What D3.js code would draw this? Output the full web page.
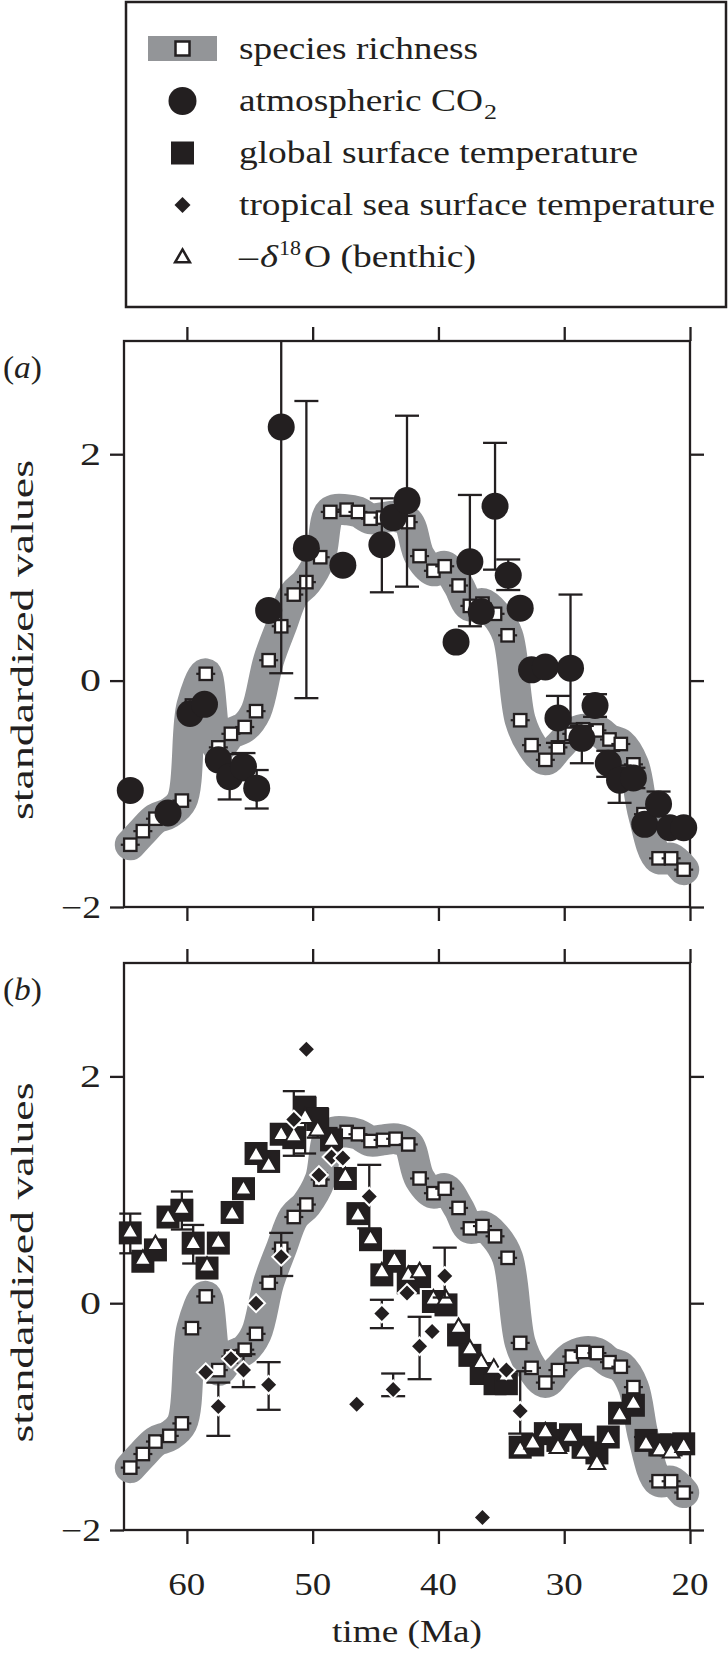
<!DOCTYPE html>
<html><head><meta charset="utf-8">
<script src="https://cdn.jsdelivr.net/npm/d3@7"></script>
<style>body{margin:0;background:#fff}svg{display:block}svg text{font-family:"Liberation Serif","Times New Roman","Nimbus Roman",Times,serif}</style>
</head><body>
<svg id="chart" width="728" height="1662"></svg>
<script>
// ---------------- data ----------------
const ageTicks = [60, 50, 40, 30, 20];
const valueTicks = [-2, 0, 2];

// species richness (both panels)
const richAge = [64.5,63.5,62.5,61.4,60.4,59.6,58.5,57.5,56.5,55.4,54.5,53.5,52.5,51.5,50.5,49.4,48.6,47.3,46.4,45.4,44.4,43.4,42.4,41.5,40.4,39.5,38.4,37.5,36.5,35.5,34.5,33.5,32.6,31.5,30.5,29.4,28.5,27.4,26.4,25.5,24.5,23.7,22.5,21.5,20.5];
const richValue = [-1.45,-1.33,-1.22,-1.17,-1.06,-0.22,0.06,-0.59,-0.47,-0.41,-0.27,0.18,0.48,0.76,0.87,1.09,1.49,1.51,1.49,1.43,1.44,1.45,1.40,1.10,0.97,1.01,0.84,0.66,0.68,0.59,0.40,-0.35,-0.57,-0.70,-0.59,-0.47,-0.43,-0.44,-0.52,-0.56,-0.74,-1.18,-1.57,-1.57,-1.67];

// atmospheric CO2 (panel a)
const co2Age = [64.5,61.5,59.75,58.6,57.5,56.6,55.5,54.45,53.5,52.5,50.5,47.6,44.5,43.6,42.5,38.6,37.5,36.6,35.5,34.45,33.5,32.6,31.5,30.5,29.5,28.6,27.55,26.5,25.6,24.5,23.6,22.5,21.6,20.5];
const co2Value = [-0.97,-1.17,-0.29,-0.21,-0.70,-0.85,-0.76,-0.95,0.62,2.24,1.17,1.02,1.20,1.44,1.59,0.34,1.05,0.61,1.54,0.93,0.64,0.095,0.12,-0.33,0.11,-0.51,-0.22,-0.73,-0.88,-0.86,-1.27,-1.09,-1.30,-1.30];
const co2Low  = [null,null,null,null,null,-1.05,-0.88,-1.13,null,0.065,-0.155,null,0.78,null,0.83,null,0.48,null,0.98,0.80,null,null,null,-0.55,-0.38,-0.73,-0.32,-0.85,-1.08,-0.95,null,-1.20,null,null];
const co2High = [null,null,null,null,null,-0.65,-0.64,-0.79,null,3.0,2.47,null,1.61,null,2.34,null,1.64,null,2.10,1.07,null,null,null,-0.135,0.76,-0.40,-0.12,-0.62,-0.75,-0.77,null,-0.98,null,null];

// global surface temperature (panel b)
const tempAge = [64.5,63.5,62.5,61.5,60.4,59.5,58.4,57.5,56.4,55.5,54.5,53.5,52.5,51.5,50.6,49.6,48.5,47.4,46.4,45.4,44.5,43.5,42.4,41.5,40.4,39.4,38.4,37.5,36.6,35.5,34.6,33.5,32.5,31.5,30.5,29.5,28.5,27.4,26.5,25.6,24.5,23.5,22.4,21.5,20.5];
const tempValue = [0.62,0.37,0.47,0.76,0.82,0.53,0.31,0.53,0.80,1.01,1.32,1.25,1.49,1.46,1.72,1.62,1.44,1.10,0.79,0.56,0.25,0.37,0.18,0.235,0.015,-0.015,-0.28,-0.46,-0.62,-0.71,-0.71,-1.27,-1.25,-1.15,-1.21,-1.16,-1.27,-1.32,-1.18,-0.97,-0.90,-1.21,-1.25,-1.25,-1.24];
const tempLow  = [0.44,null,null,null,0.65,0.35,null,null,null,null,null,null,null,1.30,1.32,1.46,null,null,null,null,null,null,null,null,null,null,null,null,null,null,null,null,null,null,null,null,null,null,null,null,null,null,null,null,null];
const tempHigh = [0.79,null,null,null,0.985,0.69,null,null,null,null,null,null,null,1.87,1.82,1.72,null,null,null,null,null,null,null,null,null,null,null,null,null,null,null,null,null,null,null,null,null,null,null,null,null,null,null,null,null];

// -delta18O benthic (panel b)
const d18Age = [64.5,63.5,62.5,61.5,60.4,59.5,58.4,57.5,56.4,55.5,54.5,53.5,52.5,51.5,50.6,49.6,48.5,47.4,46.4,45.4,44.5,43.5,42.4,41.5,40.4,39.4,38.4,37.5,36.6,35.6,34.6,33.5,32.5,31.5,30.5,29.5,28.5,27.4,26.5,25.6,24.5,23.5,22.4,21.5,20.5];
const d18Value = [0.63,0.39,0.52,0.76,0.84,0.53,0.33,0.54,0.79,1.01,1.31,1.22,1.49,1.48,1.64,1.53,1.44,1.12,0.78,0.57,0.28,0.38,0.25,0.28,0.04,0.04,-0.21,-0.40,-0.52,-0.57,-0.63,-1.29,-1.23,-1.13,-1.27,-1.17,-1.31,-1.41,-1.19,-0.98,-0.88,-1.24,-1.29,-1.31,-1.26];

// tropical sea surface temperature (panel b)
const sstAge = [58.5,57.5,56.5,55.5,54.5,53.5,52.5,51.5,50.5,49.5,48.5,47.6,46.5,45.5,44.5,43.6,42.5,41.5,40.5,39.5,36.5,34.6,33.5];
const sstValue = [-0.61,-0.91,-0.49,-0.59,0.00,-0.72,0.41,1.62,2.24,1.13,1.29,1.28,-0.89,0.94,-0.09,-0.76,0.09,-0.38,-0.25,0.24,-1.89,-0.59,-0.95];
const sstLow  = [null,-1.17,null,-0.74,null,-0.94,0.24,null,null,null,null,null,null,0.66,-0.22,-0.82,null,-0.67,null,0.05,null,null,-1.15];
const sstHigh = [null,-0.70,null,-0.45,null,-0.52,0.62,null,null,null,null,null,null,1.22,0.03,-0.62,null,-0.12,null,0.49,null,null,-0.60];

const legendLabels = ["species richness","atmospheric CO","global surface temperature","tropical sea surface temperature","O (benthic)"];

// ---------------- drawing ----------------
const ink = "#231f20", bandGray = "#939598";
const svg = d3.select("#chart");

const x = d3.scaleLinear().domain([65, 20]).range([124, 690]);
const yA = d3.scaleLinear().domain([-2, 3]).range([907, 341]);
const yB = d3.scaleLinear().domain([-2, 3]).range([1530, 963]);

const zip = (a, v, lo, hi) => a.map((d, i) => ({age: d, v: v[i], lo: lo ? lo[i] : null, hi: hi ? hi[i] : null}));
const rich = zip(richAge, richValue);

function frame(y, label, showXLabels) {
  const g = svg.append("g");
  const [yb, yt] = y.range();
  g.append("rect").attr("x", x(65)).attr("y", yt).attr("width", x(20) - x(65)).attr("height", yb - yt)
    .attr("fill", "none").attr("stroke", ink).attr("stroke-width", 2.3);
  const axes = [
    [d3.axisLeft(y).tickValues(valueTicks), `translate(${x(65)},0)`],
    [d3.axisRight(y).tickValues(valueTicks), `translate(${x(20)},0)`],
    [d3.axisTop(x).tickValues(ageTicks), `translate(0,${yt})`],
    [d3.axisBottom(x).tickValues(ageTicks), `translate(0,${yb})`]
  ];
  axes.forEach(([ax, tr]) => {
    const a = g.append("g").attr("transform", tr).call(ax.tickSize(14).tickSizeOuter(0).tickFormat(""));
    a.select(".domain").remove();
    a.selectAll("line").attr("stroke", ink).attr("stroke-width", 2.3);
  });
  g.selectAll(".ylab").data(valueTicks).join("text")
    .attr("x", 101).attr("y", d => y(d) + 10.5).attr("text-anchor", "end")
    .attr("font-size", 31).attr("fill", ink)
    .attr("textLength", d => d < 0 ? 40 : 21).attr("lengthAdjust", "spacingAndGlyphs")
    .text(d => d < 0 ? "\u2212" + Math.abs(d) : String(d));
  const pl = g.append("text").attr("x", 3).attr("y", yt + 37).attr("font-size", 31).attr("fill", ink)
    .attr("textLength", 39).attr("lengthAdjust", "spacingAndGlyphs");
  pl.append("tspan").text("(");
  pl.append("tspan").attr("font-style", "italic").text(label);
  pl.append("tspan").text(")");
  g.append("text").attr("transform", `translate(33,${(yt + yb) / 2 + 16}) rotate(-90)`)
    .attr("text-anchor", "middle").attr("font-size", 31).attr("fill", ink)
    .attr("textLength", 360).attr("lengthAdjust", "spacingAndGlyphs").text("standardized values");
  if (showXLabels) {
    g.selectAll(".xlab").data(ageTicks).join("text")
      .attr("x", d => x(d)).attr("y", 1595).attr("text-anchor", "middle")
      .attr("font-size", 31).attr("fill", ink)
      .attr("textLength", 37).attr("lengthAdjust", "spacingAndGlyphs").text(d => d);
    g.append("text").attr("x", (x(65) + x(20)) / 2).attr("y", 1642).attr("text-anchor", "middle")
      .attr("font-size", 31).attr("fill", ink)
      .attr("textLength", 150).attr("lengthAdjust", "spacingAndGlyphs").text("time (Ma)");
  }
}

function richness(y) {
  const g = svg.append("g");
  g.append("path").datum(rich)
    .attr("d", d3.line().x(d => x(d.age)).y(d => y(d.v)).curve(d3.curveCatmullRom.alpha(0.5)))
    .attr("fill", "none").attr("stroke", bandGray).attr("stroke-width", 31)
    .attr("stroke-linecap", "round").attr("stroke-linejoin", "round");
  const pts = g.selectAll(".r").data(rich).join("g").attr("transform", d => `translate(${x(d.age)},${y(d.v)})`);
  pts.append("line").attr("x1", -9.5).attr("x2", 9.5).attr("stroke", ink).attr("stroke-width", 2.2);
  pts.append("rect").attr("x", -6.2).attr("y", -6.2).attr("width", 12.4).attr("height", 12.4)
    .attr("fill", "#fff").attr("stroke", ink).attr("stroke-width", 2.3);
}

function errorBars(y, data, cap) {
  const g = svg.append("g").attr("stroke", ink).attr("stroke-width", 2.3);
  const eb = data.filter(d => d.lo !== null && d.hi !== null);
  const top = y.domain()[1];
  g.selectAll(".v").data(eb).join("line")
    .attr("x1", d => x(d.age)).attr("x2", d => x(d.age))
    .attr("y1", d => y(d.lo)).attr("y2", d => y(Math.min(d.hi, top)));
  const caps = [];
  eb.forEach(d => { caps.push({age: d.age, v: d.lo}); if (d.hi < top) caps.push({age: d.age, v: d.hi}); });
  g.selectAll(".c").data(caps).join("line")
    .attr("x1", d => x(d.age) - cap / 2).attr("x2", d => x(d.age) + cap / 2)
    .attr("y1", d => y(d.v)).attr("y2", d => y(d.v));
}

const triPath = (s) => d3.symbol(d3.symbolTriangle, s)();
const diaPath = (h) => `M0,${-h}L${h},0L0,${h}L${-h},0Z`;

// ---- panel a ----
frame(yA, "a", false);
richness(yA);
const co2 = zip(co2Age, co2Value, co2Low, co2High);
errorBars(yA, co2, 24);
svg.append("g").selectAll("circle").data(co2).join("circle")
  .attr("cx", d => x(d.age)).attr("cy", d => yA(d.v)).attr("r", 13.5).attr("fill", ink);

// ---- panel b ----
frame(yB, "b", true);
richness(yB);
const temp = zip(tempAge, tempValue, tempLow, tempHigh);
errorBars(yB, temp, 22);
svg.append("g").selectAll("rect").data(temp).join("rect")
  .attr("x", d => x(d.age) - 11.5).attr("y", d => yB(d.v) - 11.5).attr("width", 23).attr("height", 23).attr("fill", ink);
const d18 = zip(d18Age, d18Value);
svg.append("g").selectAll("path").data(d18).join("path")
  .attr("transform", d => `translate(${x(d.age)},${yB(d.v) + 1})`).attr("d", triPath(120))
  .attr("fill", "#fff").attr("stroke", ink).attr("stroke-width", 2);
const sst = zip(sstAge, sstValue, sstLow, sstHigh);
errorBars(yB, sst, 24);
svg.append("g").selectAll("path").data(sst).join("path")
  .attr("transform", d => `translate(${x(d.age)},${yB(d.v)})`).attr("d", diaPath(7.5))
  .attr("fill", ink).attr("stroke", "#fff").attr("stroke-width", 4).attr("paint-order", "stroke");

// ---- legend ----
const lg = svg.append("g");
lg.append("rect").attr("x", 126).attr("y", 2).attr("width", 600).attr("height", 305)
  .attr("fill", "#fff").attr("stroke", ink).attr("stroke-width", 2.5);
const rows = [48.5, 101, 153, 205, 257];
const sx = 182.5, tx = 239;
lg.append("rect").attr("x", 148).attr("y", rows[0] - 12.5).attr("width", 69).attr("height", 25).attr("fill", bandGray);
lg.append("rect").attr("x", sx - 7).attr("y", rows[0] - 7).attr("width", 14).attr("height", 14)
  .attr("fill", "#fff").attr("stroke", ink).attr("stroke-width", 2.5);
lg.append("circle").attr("cx", sx).attr("cy", rows[1]).attr("r", 14).attr("fill", ink);
lg.append("rect").attr("x", sx - 11.5).attr("y", rows[2] - 11.5).attr("width", 23).attr("height", 23).attr("fill", ink);
lg.append("path").attr("transform", `translate(${sx},${rows[3]})`).attr("d", diaPath(8)).attr("fill", ink);
lg.append("path").attr("transform", `translate(${sx},${rows[4] + 1})`).attr("d", triPath(95))
  .attr("fill", "#fff").attr("stroke", ink).attr("stroke-width", 2.5);
const lt = (xx, yy, txt, len, fs) => lg.append("text").attr("x", xx).attr("y", yy).attr("font-size", fs || 31)
  .attr("fill", ink).attr("textLength", len).attr("lengthAdjust", "spacingAndGlyphs").text(txt);
lt(tx, rows[0] + 10, legendLabels[0], 239);
lt(tx, rows[1] + 10, legendLabels[1], 244);
lt(484, rows[1] + 18, "2", 13, 21);
lt(tx, rows[2] + 10, legendLabels[2], 399);
lt(tx, rows[3] + 10, legendLabels[3], 476);
lt(tx, rows[4] + 10, "\u2013", 19);
lt(260, rows[4] + 10, "\u03b4", 18).attr("font-style", "italic");
lt(279, rows[4] - 2, "18", 22, 21);
lt(304, rows[4] + 10, legendLabels[4], 172);
</script>
</body></html>
